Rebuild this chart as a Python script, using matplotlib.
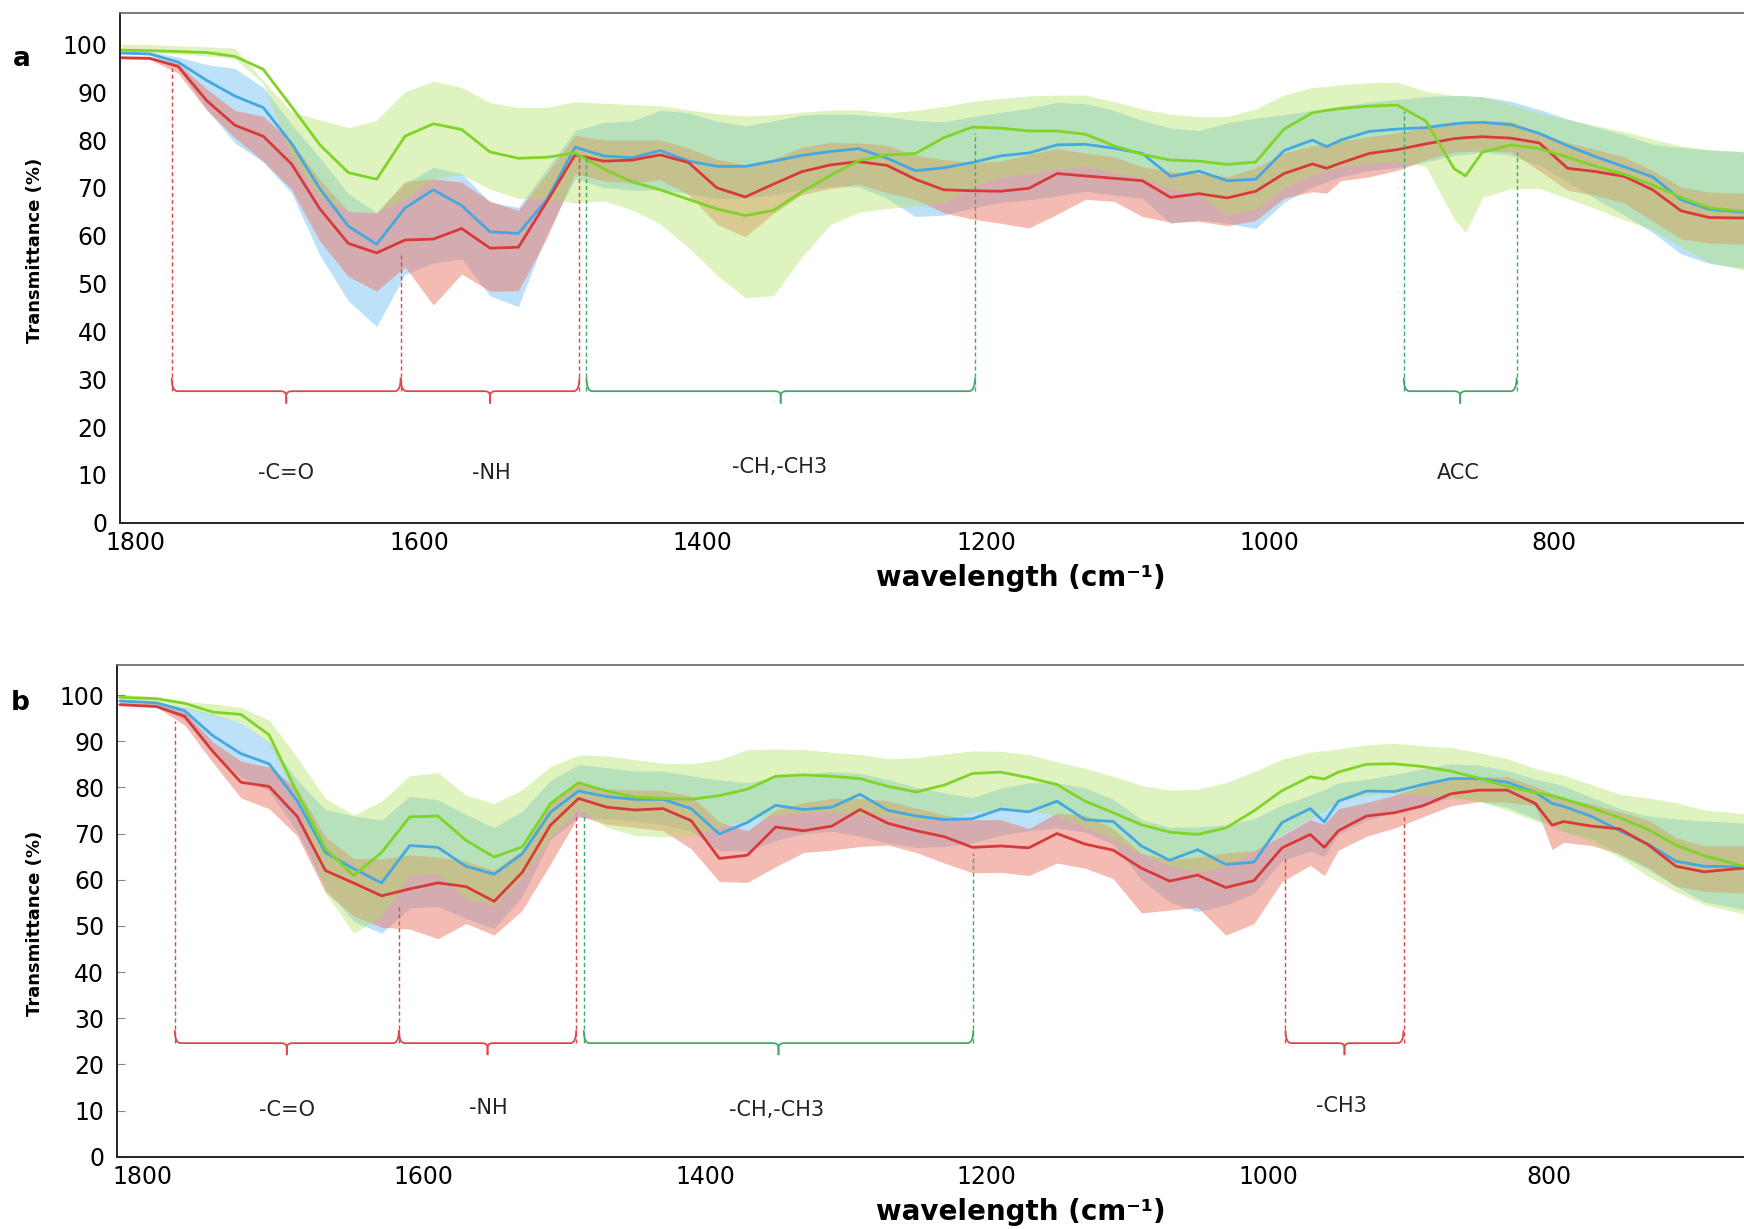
import numpy as np
import matplotlib.pyplot as plt
from matplotlib.path import Path
from matplotlib.patches import PathPatch

# wavenumber grids (cm-1)
wn_a = [1810, 1790, 1770, 1750, 1730, 1710, 1690, 1670, 1650, 1630, 1610, 1590, 1570, 1550, 1530,
        1510, 1490, 1470, 1450, 1430, 1410, 1390, 1370, 1350, 1330, 1310, 1290, 1270, 1250, 1230,
        1210, 1190, 1170, 1150, 1130, 1110, 1090, 1070, 1050, 1030, 1010, 990, 970, 960, 950,
        930, 910, 890, 870, 862, 850, 830, 810, 790, 770, 750, 730, 710, 690, 665]
wn_b = [1816, 1790, 1770, 1750, 1730, 1710, 1690, 1670, 1650, 1630, 1610, 1590, 1570, 1550, 1530,
        1510, 1490, 1470, 1450, 1430, 1410, 1390, 1370, 1350, 1330, 1310, 1290, 1270, 1250, 1230,
        1210, 1190, 1170, 1150, 1130, 1110, 1090, 1070, 1050, 1030, 1010, 990, 970, 960, 950,
        930, 910, 890, 870, 850, 830, 810, 798, 790, 770, 750, 730, 710, 690, 662]

# ---- panel a ----
green_a = [98.8, 98.7, 98.5, 98.3, 97.5, 94.8, 87, 79, 73.2, 71.8, 80.8, 83.4, 82.2, 77.5, 76.2,
           76.4, 77.3, 74, 71.3, 69.6, 67.6, 65.6, 64.2, 65.3, 69.2, 72.6, 75.7, 76.9, 77.2, 80.5,
           82.7, 82.5, 81.9, 81.9, 81.2, 78.8, 77, 75.8, 75.6, 74.9, 75.4, 82.3, 85.7, 86.2, 86.6,
           87.1, 87.3, 84, 74, 72.5, 77.5, 79, 78.2, 76.4, 74.5, 72.8, 70.6, 68, 65.8, 65.1]
green_a_hi = [100, 100, 99.7, 99.5, 99.2, 92.5, 85.9, 84.2, 82.6, 84.1, 90.1, 92.3, 91, 87.8, 86.8,
              86.8, 88, 87.7, 87.4, 87.2, 86.3, 85.5, 85, 85.3, 85.8, 86.3, 86.3, 85.7, 86.2, 87,
              88.1, 88.7, 89.2, 89.4, 89.4, 88, 86.5, 85.4, 84.9, 84.9, 86.5, 89.4, 91, 91.2, 91.6,
              92, 92.1, 90.2, 89.3, 89.3, 89, 87.4, 85.6, 84.3, 83, 81.8, 80.2, 78.8, 78, 77.6]
green_a_lo = [98.3, 98.2, 98, 97.6, 97, 91.8, 76.5, 68.2, 65.2, 64.8, 67.7, 71.9, 72.8, 69.7, 67.8,
              67.8, 66.8, 67.3, 65.4, 62.5, 57.5, 51.8, 47, 47.5, 55.6, 62.3, 64.9, 65.7, 66.2, 66.9,
              70.2, 72.1, 73, 73.9, 74.5, 73.2, 72.1, 69.9, 68.6, 64.3, 65.5, 70, 72.8, 73.5, 74.5,
              75.1, 75.5, 74.5, 63.5, 60.7, 68, 69.8, 69.9, 67.8, 65.6, 63.3, 61.3, 57.6, 54.4, 52.8]

blue_a = [98.2, 98, 96.3, 92.5, 89.2, 86.8, 79.3, 69.8, 62, 58.2, 65.8, 69.6, 66.3, 60.8, 60.5,
          67.5, 78.5, 76.7, 76.3, 77.8, 75.6, 74.5, 74.5, 75.6, 76.8, 77.6, 78.2, 76.2, 73.6, 74.2,
          75.3, 76.7, 77.3, 79, 79.1, 78.3, 77.2, 72.4, 73.5, 71.5, 71.8, 77.8, 80, 78.6, 80,
          81.8, 82.3, 82.6, 83.4, 83.6, 83.7, 83.2, 81.4, 78.8, 76.5, 74.4, 72.3, 67.5, 65.5, 64.9]
blue_a_hi = [98.5, 98.4, 97.4, 95.8, 95, 91, 83.3, 76.3, 68.8, 64.8, 70.9, 74.3, 73, 67, 65.9,
             74, 82, 83.7, 84, 86.2, 85.7, 83.9, 83, 84, 85.2, 85.5, 85.3, 84.9, 84.1, 83.8,
             84.9, 85.8, 86.6, 87.9, 87.6, 86.2, 84.1, 82.5, 82, 83.6, 84.6, 85.3, 86.2, 86.6, 87.1,
             87.9, 88.5, 89.1, 89.3, 89.2, 89.1, 88.1, 86.4, 84.4, 82.7, 81.1, 79.1, 78.4, 77.9, 77.5]
blue_a_lo = [98, 97.8, 95, 86.5, 79.4, 75.4, 68.9, 55.9, 46.4, 41, 51.9, 54.3, 55.1, 47.4, 45.2,
             60.4, 72, 70.1, 69.5, 69.6, 68.8, 67.8, 67.8, 68.6, 69.6, 70.3, 70.2, 67.8, 64, 64.3,
             65.8, 67, 67.5, 68.3, 69.3, 68.5, 67.8, 62.6, 63.3, 62.6, 61.5, 67, 70.2, 71.3, 72.3,
             73.6, 74.3, 75.4, 76.8, 77, 77.5, 76.8, 74.8, 71.2, 67.7, 64.3, 60.7, 56.2, 54.2, 53.2]

red_a = [97.2, 97.1, 95.4, 88.3, 83.1, 80.8, 75, 65.6, 58.4, 56.4, 59.1, 59.3, 61.5, 57.4, 57.6,
         67.1, 76.9, 75.6, 75.8, 76.9, 75.3, 70, 68.1, 70.8, 73.4, 74.8, 75.5, 74.7, 71.8, 69.6,
         69.4, 69.3, 69.9, 73, 72.5, 72, 71.5, 68, 68.8, 67.9, 69.3, 73, 75, 74.1, 75.2,
         77.2, 78, 79.2, 80.3, 80.5, 80.7, 80.4, 79.4, 74.1, 73.4, 72.4, 69.6, 65.2, 63.8, 63.7]
red_a_hi = [97.5, 97.3, 96, 90.7, 86.2, 85, 79.6, 71.7, 65.1, 64.8, 71.4, 71.9, 71.2, 67.2, 65.3,
            73, 81, 80, 80, 80, 78.3, 76, 74.8, 76.1, 78.5, 79.5, 79.4, 78.9, 76.8, 75.9,
            75.3, 75.6, 77, 78.2, 77.3, 76.5, 74.4, 73.4, 73, 72.3, 74.2, 77.3, 78.8, 79.2, 79.8,
            80.7, 81.5, 82.6, 83.6, 83.9, 84.1, 83.9, 81.5, 79.5, 78, 76.5, 73.6, 70.2, 69.1, 68.9]
red_a_lo = [97, 96.8, 94, 86.3, 80.5, 75.6, 69.7, 58.8, 51.5, 48.4, 53.5, 45.5, 52, 48.4, 48.5,
            59.5, 73, 71.5, 71, 71.7, 68.6, 62.4, 59.8, 64.7, 68.6, 69.9, 70.8, 69, 67.6, 64.8,
            63.5, 62.6, 61.6, 64.5, 67.6, 67.2, 64, 62.8, 63, 62.1, 63.2, 67.9, 69.2, 68.9, 71.5,
            72.3, 73.7, 75.9, 77.5, 77.6, 77.7, 77.5, 73.6, 69.5, 68.4, 66.8, 63.1, 59.3, 58.5, 58.2]

# ---- panel b ----
green_b = [99.5, 99.2, 98.2, 96.3, 95.8, 91.4, 78.8, 66.8, 60.9, 65.9, 73.6, 73.8, 68.5, 64.9, 67.1,
           76.5, 81, 79.2, 77.9, 77.6, 77.4, 78.2, 79.6, 82.4, 82.7, 82.4, 81.9, 80.2, 79, 80.5,
           83, 83.3, 82.1, 80.6, 77, 74.5, 71.9, 70.3, 69.8, 71.2, 74.9, 79.3, 82.3, 81.8, 83.3,
           85, 85.1, 84.5, 83.5, 82, 80.2, 78.9, 78.2, 77.5, 75.6, 73.4, 70.9, 67.5, 65.2, 62.9]
green_b_hi = [100.2, 99.6, 98.6, 98.1, 97.3, 94.6, 86.5, 77.6, 74, 77, 82.5, 83.2, 78.3, 76.5, 79.5,
              84.5, 87, 86.8, 86, 85.2, 85.1, 86, 88.2, 88.3, 88.2, 87.6, 87.1, 86.2, 86.4, 87.2,
              87.9, 87.8, 87.1, 85.5, 84.1, 82.4, 80.4, 79.4, 79.6, 81, 83.4, 86.1, 87.6, 88, 88.3,
              89.2, 89.5, 89, 88.6, 87.5, 86.2, 84.1, 83.2, 82.6, 80.6, 78.5, 77.7, 76.7, 75.1, 74.3]
green_b_lo = [99, 98.3, 97.2, 95.6, 94.1, 89.4, 77.7, 57.2, 48.4, 52, 60.9, 61.2, 55.9, 54.4, 60.5,
              69.2, 75.2, 71.3, 69.6, 69.3, 69.6, 71.2, 72.9, 74, 74.6, 74.6, 74.2, 73.7, 72.8, 73.2,
              74.6, 75.2, 75, 73.9, 71.4, 68.7, 65.6, 63, 61.7, 62.8, 66.2, 69.8, 73.3, 74.8, 77,
              78.3, 78.6, 78.3, 77.8, 77, 75, 72.7, 71.8, 70.4, 68, 64.8, 60.8, 57.4, 54.6, 52.6]

blue_b = [98.7, 98.3, 96.6, 91.2, 87.3, 85.1, 77.1, 65.9, 62.4, 59.3, 67.4, 67, 62.9, 61.2, 65.6,
          74.6, 79.2, 78, 77.4, 77.4, 75.4, 69.9, 72.4, 76.1, 75.2, 75.7, 78.5, 75, 73.8, 73,
          73.2, 75.3, 74.7, 77, 73, 72.6, 67.3, 64.2, 66.5, 63.3, 63.8, 72.4, 75.4, 72.5, 77,
          79.2, 79.1, 80.6, 81.9, 81.9, 81.1, 78.9, 76.5, 75.9, 73.7, 70.6, 67.7, 64, 62.9, 62.8]
blue_b_hi = [99.1, 98.5, 97.4, 95.9, 94, 89.8, 81.6, 75.2, 73.8, 72.9, 78.1, 77.3, 74.1, 71.3, 74.8,
             81.5, 84.9, 84.3, 83.5, 83.5, 82.5, 81.6, 81, 82.2, 82.9, 83.4, 83, 81.7, 80, 78.8,
             77.8, 79.8, 81, 81, 79.9, 77.4, 73, 71.4, 71.4, 71.9, 73.2, 76.2, 78.3, 79.5, 81,
             81.7, 82.8, 84, 85.1, 84.8, 83.6, 81.8, 81, 80.3, 77.8, 75.4, 73.8, 73.2, 72.7, 72.3]
blue_b_lo = [98.3, 97.8, 94.5, 87.3, 82.2, 79.2, 70.4, 58.2, 51, 48.4, 53.9, 54.2, 51.6, 49.4, 56.4,
             68.7, 73.5, 73.2, 72.6, 72, 70.5, 66.3, 66.2, 68.5, 70, 70.5, 69.4, 67.9, 67, 67.2,
             68, 69.6, 70.6, 71.2, 70.3, 67.7, 60, 55.2, 53.1, 54.5, 57, 64.2, 66.2, 65, 69.8,
             72.9, 74.6, 75.9, 77.8, 77, 75.7, 73.2, 71.6, 70.4, 68.8, 65.4, 62.2, 58.5, 55.2, 53.5]

red_b = [97.9, 97.5, 95.4, 87.8, 81.1, 80.2, 73.7, 62, 59.3, 56.5, 58, 59.3, 58.5, 55.3, 61.6,
         71.8, 77.6, 75.7, 75.1, 75.4, 72.8, 64.6, 65.3, 71.4, 70.6, 71.6, 75.2, 72.2, 70.6, 69.3,
         67, 67.3, 66.9, 70, 67.7, 66.4, 62.5, 59.7, 61, 58.3, 59.8, 66.9, 69.8, 67, 70.6,
         73.8, 74.5, 76, 78.6, 79.4, 79.4, 76.5, 71.8, 72.6, 71.6, 71, 67.6, 62.9, 61.7, 62.5]
red_b_hi = [98.4, 98.1, 96.3, 89.9, 85.7, 84.4, 79.7, 69.3, 64.6, 64.5, 65.4, 64.9, 64, 62, 66.5,
            76.6, 80.9, 79.7, 79.4, 79.3, 78.1, 72.5, 70.6, 75.1, 76.7, 77.6, 77.6, 77.1, 75.5, 74,
            73, 73, 71.1, 74.4, 74, 71, 65.7, 64.3, 64.9, 65.8, 66.3, 69.5, 73, 72, 75.4,
            76.7, 78.3, 80.3, 82, 82.3, 82.3, 80.2, 78.6, 77.6, 76.4, 74.7, 73, 69.1, 67.3, 67.3]
red_b_lo = [97.8, 97.4, 93.5, 85.4, 77.7, 75.4, 69.5, 57.3, 52.2, 49.7, 49.3, 47.2, 50.5, 48, 53.4,
            63.4, 73.8, 72, 71.3, 70.6, 66.7, 59.6, 59.4, 62.8, 65.9, 66.4, 67.2, 67.5, 65.9, 63.6,
            61.5, 61.6, 60.9, 63.6, 62.5, 60.2, 52.8, 53.4, 54, 48, 50.5, 59.6, 63.1, 60.9, 66.4,
            69.4, 71.2, 73.6, 76, 76.9, 76.8, 76, 66.5, 68.1, 67.4, 65.6, 62.7, 58.6, 57.5, 57.1]

# band annotations: (left, right) wavenumbers of each brace, and labels
braces_a = [(1774.5, 1613, "r"), (1613, 1487, "r"), (1482, 1208, "g"), (905.6, 826, "g")]
guides_a = [(1774.5, 95, "r"), (1613, 56.6, "r"), (1487, 76.5, "r"), (1482, 76.5, "g"),
            (1208, 81.5, "g"), (905.6, 86, "g"), (826, 77.5, "g")]
labels_a = [("-C=O", 1694, 10.3), ("-NH", 1549, 10.3), ("-CH,-CH3", 1346, 11.6), ("ACC", 867, 10.3)]

braces_b = [(1777, 1617.7, "r"), (1617.7, 1491.7, "r"), (1486.3, 1209.5, "g"), (987.6, 903.7, "r")]
guides_b = [(1777, 94.4, "r"), (1617.7, 54.4, "r"), (1491.7, 74.5, "r"), (1486.3, 74.5, "g"),
            (1209.5, 65.7, "g"), (987.6, 65.3, "r"), (903.7, 74.2, "r")]
labels_b = [("-C=O", 1697, 10.2), ("-NH", 1554, 10.5), ("-CH,-CH3", 1349, 10.2), ("-CH3", 948, 10.9)]

ann_col = {"r": "#e0474b", "g": "#45a86a"}

# line colour, band colour, band alpha
sty_blue = ("#45a8e0", (110 / 255, 190 / 255, 240 / 255), 0.45)
sty_red = ("#d83a3a", (235 / 255, 120 / 255, 105 / 255), 0.5)
sty_green = ("#80d428", (175 / 255, 225 / 255, 95 / 255), 0.4)

W, H = 1744, 1229
fig = plt.figure(figsize=(W / 100, H / 100), dpi=100)


def brace(ax, x1, x2, y, color, up=2.8, down=2.6, dx=4.0, dy=1.0):
    xm = (x1 + x2) / 2
    for xe in (x1, x2):
        s = np.sign(xm - xe)
        verts = [(xe, y + up), (xe, y), (xe + s * dx, y), (xm - s * dx, y), (xm, y), (xm, y - dy),
                 (xm, y - down)]
        codes = [Path.MOVETO, Path.CURVE3, Path.CURVE3, Path.LINETO, Path.CURVE3, Path.CURVE3,
                 Path.LINETO]
        ax.add_patch(PathPatch(Path(verts, codes), fill=False, edgecolor=color, lw=1.3))


def panel(ax, wn, series, braces, guides, labels, ybr, xlim, ticks_in):
    for mean, lo, hi, (lc, fc, al) in series:
        ax.plot(wn, mean, color=lc, lw=2.0, solid_joinstyle="round", solid_capstyle="round")
        ax.fill_between(wn, lo, hi, color=fc, alpha=al, lw=0)
    for x1, x2, c in braces:
        brace(ax, x1, x2, ybr, ann_col[c])
    for x, top, c in guides:
        ax.plot([x, x], [ybr, top], color=ann_col[c], lw=1.0, ls=(0, (3, 2)))
    for txt, x, y in labels:
        ax.text(x, y, txt, ha="center", va="center", fontsize=15, color="#222222")
    ax.set_xlim(*xlim)
    ax.set_ylim(0, 106.5)
    ax.set_yticks(range(0, 101, 10))
    ax.set_xticks(range(1800, 700, -200))
    if ticks_in:
        ax.tick_params(axis="y", direction="in", length=6, width=0.8, colors="#888888",
                       labelcolor="black", labelsize=17, pad=9)
    else:
        ax.tick_params(axis="y", length=0, labelsize=17, pad=9)
    ax.tick_params(axis="x", length=0, labelsize=17, pad=6)
    for sp in ("left", "bottom"):
        ax.spines[sp].set_color("#222222")
        ax.spines[sp].set_linewidth(1.4)
    ax.spines["top"].set_color("#666666")
    ax.spines["top"].set_linewidth(1.2)
    ax.spines["right"].set_visible(False)


ax_a = fig.add_axes([120 / W, 1 - 522.7 / H, 1 - 120 / W, (522.7 - 13.3) / H])
panel(ax_a, wn_a,
      [(blue_a, blue_a_lo, blue_a_hi, sty_blue),
       (red_a, red_a_lo, red_a_hi, sty_red),
       (green_a, green_a_lo, green_a_hi, sty_green)],
      braces_a, guides_a, labels_a, 27.5, (1811, 665.6), False)

ax_b = fig.add_axes([116.8 / W, 1 - 1156.7 / H, 1 - 116.8 / W, (1156.7 - 665) / H])
panel(ax_b, wn_b,
      [(blue_b, blue_b_lo, blue_b_hi, sty_blue),
       (red_b, red_b_lo, red_b_hi, sty_red),
       (green_b, green_b_lo, green_b_hi, sty_green)],
      braces_b, guides_b, labels_b, 24.6, (1818.2, 661.7), True)

fig.text(22 / W, 1 - 59 / H, "a", fontsize=19, fontweight="bold", ha="center", va="center")
fig.text(20 / W, 1 - 703 / H, "b", fontsize=19, fontweight="bold", ha="center", va="center")
fig.text(35 / W, 1 - 250 / H, "Transmittance (%)", rotation=90, fontsize=13, fontweight="bold",
         ha="center", va="center")
fig.text(35 / W, 1 - 923 / H, "Transmittance (%)", rotation=90, fontsize=13, fontweight="bold",
         ha="center", va="center")
fig.text(1021 / W, 1 - 578 / H, "wavelength (cm\u207b\u00b9)", fontsize=20, fontweight="bold",
         ha="center", va="center")
fig.text(1021 / W, 1 - 1212 / H, "wavelength (cm\u207b\u00b9)", fontsize=20, fontweight="bold",
         ha="center", va="center")

fig.savefig("out.png", dpi=100)
